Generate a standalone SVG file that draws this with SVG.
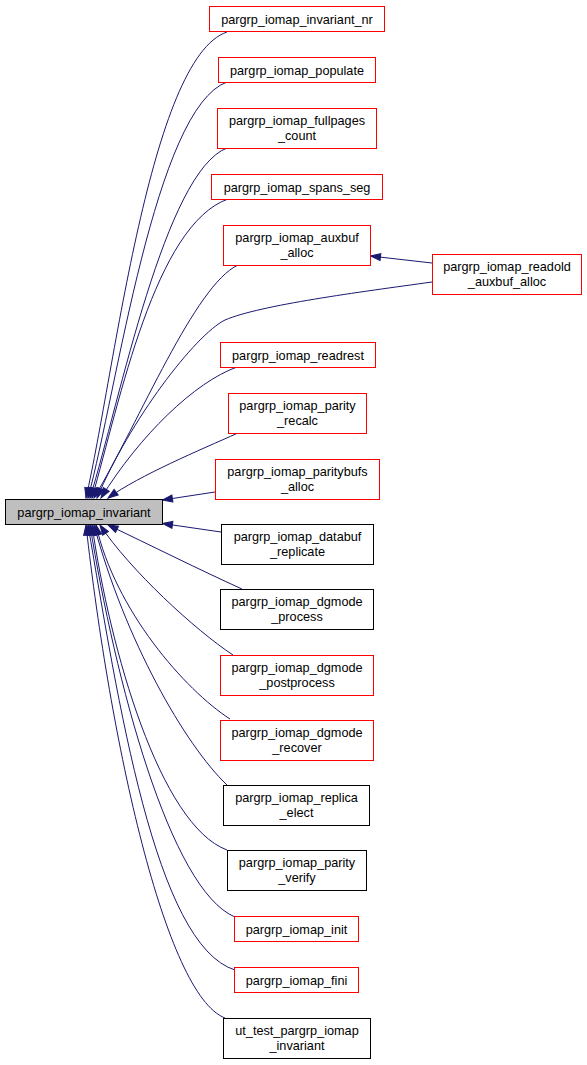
<svg xmlns="http://www.w3.org/2000/svg" width="587" height="1065" viewBox="0 0 587 1065">
<style>
  text { font-family: "Liberation Sans", Arial, Helvetica, sans-serif; font-size: 12.7px; fill: #000; text-anchor: middle; }
  .red { fill: #fff; stroke: #ff0000; stroke-width: 1; }
  .blk { fill: #fff; stroke: #000; stroke-width: 1; }
  .main { fill: #bfbfbf; stroke: #000; stroke-width: 1; }
  .edge { fill: none; stroke: #191970; stroke-width: 1; marker-end: url(#ah); }
</style>
<defs>
  <marker id="ah" markerUnits="userSpaceOnUse" markerWidth="12" markerHeight="9" refX="10" refY="3.5" orient="auto" overflow="visible">
    <path d="M0,0 L10,3.5 L0,7 z" fill="#191970" stroke="#191970" stroke-width="1"/>
  </marker>
</defs>
<rect width="587" height="1065" fill="#fff"/>
<g id="edges">
  <path class="edge" d="M227,32 C150,58 115,370 86,498"/>
  <path class="edge" d="M227,82 C155,108 117,390 88,498"/>
  <path class="edge" d="M227,148 C165,172 120,400 90,498"/>
  <path class="edge" d="M228,199 C155,225 120,400 92,498"/>
  <path class="edge" d="M238,265 C195,285 140,420 94,498"/>
  <path class="edge" d="M432,282 C360,292 260,305 225,320 C195,335 130,420 97,498"/>
  <path class="edge" d="M237,367 C195,382 140,435 101,498"/>
  <path class="edge" d="M238,433 C200,450 140,475 108,498"/>
  <path class="edge" d="M215,492 L162.5,500"/>
  <path class="edge" d="M221,532 L162.5,523.5"/>
  <path class="edge" d="M242,589 C200,570 150,545 108,525"/>
  <path class="edge" d="M233,655 C195,630 130,570 100,525"/>
  <path class="edge" d="M230,719 C185,690 115,610 96,525"/>
  <path class="edge" d="M227,785 C185,745 125,640 94,525"/>
  <path class="edge" d="M227,850 C160,825 110,650 92,525"/>
  <path class="edge" d="M235,917 C170,890 115,680 90,525"/>
  <path class="edge" d="M235,970 C155,945 118,700 88,525"/>
  <path class="edge" d="M225,1018 C165,995 110,740 86,525"/>
  <path class="edge" d="M432,263 L370.5,256"/>
</g>
<g id="n_main"><rect class="main" x="5.5" y="499.5" width="157" height="25"/><text x="84" y="516.5">pargrp_iomap_invariant</text></g>
<g id="n1"><rect class="red" x="209.5" y="6.5" width="175" height="25"/><text x="297" y="23.5">pargrp_iomap_invariant_nr</text></g>
<g id="n2"><rect class="red" x="218.5" y="57.5" width="157" height="25"/><text x="297" y="74.5">pargrp_iomap_populate</text></g>
<g id="n3"><rect class="red" x="217.5" y="108.5" width="159" height="40"/><text x="297" y="125">pargrp_iomap_fullpages</text><text x="297" y="140">_count</text></g>
<g id="n4"><rect class="red" x="211.5" y="174.5" width="171" height="25"/><text x="297" y="191.5">pargrp_iomap_spans_seg</text></g>
<g id="n5"><rect class="red" x="223.5" y="225.5" width="147" height="40"/><text x="297" y="242">pargrp_iomap_auxbuf</text><text x="297" y="257">_alloc</text></g>
<g id="n6"><rect class="red" x="432.5" y="254.5" width="149" height="40"/><text x="507" y="271">pargrp_iomap_readold</text><text x="507" y="286">_auxbuf_alloc</text></g>
<g id="n7"><rect class="red" x="220.5" y="342.5" width="155" height="25"/><text x="298" y="359.5">pargrp_iomap_readrest</text></g>
<g id="n8"><rect class="red" x="228.5" y="393.5" width="138" height="40"/><text x="297.5" y="410">pargrp_iomap_parity</text><text x="297.5" y="425">_recalc</text></g>
<g id="n9"><rect class="red" x="215.5" y="459.5" width="164" height="40"/><text x="297.5" y="476">pargrp_iomap_paritybufs</text><text x="297.5" y="491">_alloc</text></g>
<g id="n10"><rect class="blk" x="221.5" y="524.5" width="152" height="40"/><text x="297.5" y="541">pargrp_iomap_databuf</text><text x="297.5" y="556">_replicate</text></g>
<g id="n11"><rect class="blk" x="220.5" y="589.5" width="153" height="40"/><text x="297" y="606">pargrp_iomap_dgmode</text><text x="297" y="621">_process</text></g>
<g id="n12"><rect class="red" x="220.5" y="655.5" width="153" height="40"/><text x="297" y="672">pargrp_iomap_dgmode</text><text x="297" y="687">_postprocess</text></g>
<g id="n13"><rect class="red" x="220.5" y="720.5" width="153" height="40"/><text x="297" y="737">pargrp_iomap_dgmode</text><text x="297" y="752">_recover</text></g>
<g id="n14"><rect class="blk" x="223.5" y="785.5" width="146" height="40"/><text x="296.5" y="802">pargrp_iomap_replica</text><text x="296.5" y="817">_elect</text></g>
<g id="n15"><rect class="blk" x="227.5" y="850.5" width="139" height="40"/><text x="297" y="867">pargrp_iomap_parity</text><text x="297" y="882">_verify</text></g>
<g id="n16"><rect class="red" x="234.5" y="916.5" width="124" height="25"/><text x="296.5" y="933.5">pargrp_iomap_init</text></g>
<g id="n17"><rect class="red" x="234.5" y="967.5" width="124" height="25"/><text x="296.5" y="984.5">pargrp_iomap_fini</text></g>
<g id="n18"><rect class="blk" x="223.5" y="1018.5" width="147" height="40"/><text x="297" y="1035">ut_test_pargrp_iomap</text><text x="297" y="1050">_invariant</text></g>
</svg>
